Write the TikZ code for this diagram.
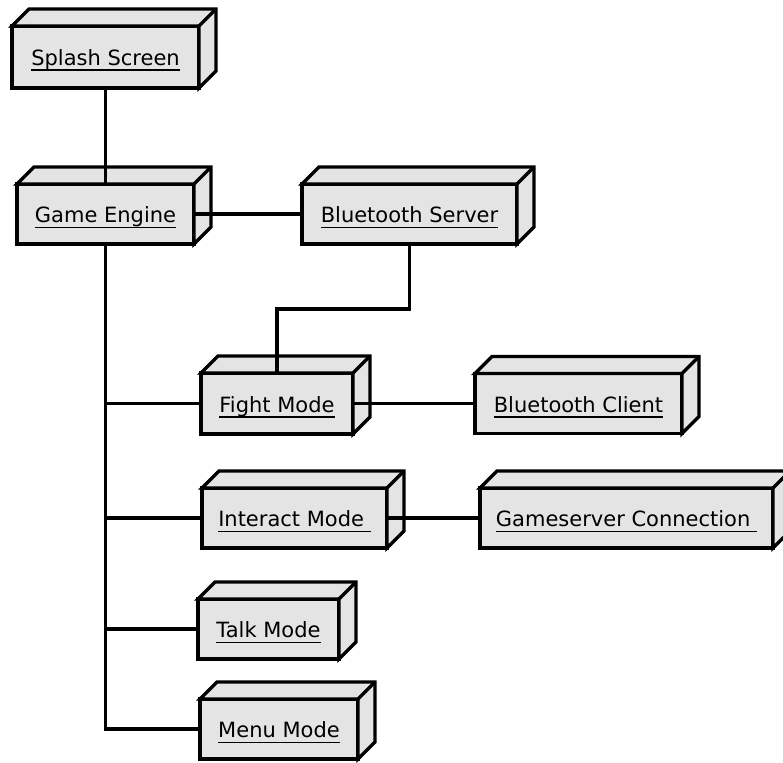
\documentclass[tikz,border=0pt]{standalone}
\usepackage{fontspec}
\setmainfont{DejaVu Sans}
\usepackage{tikz}

\definecolor{boxgray}{RGB}{228,228,228}
\newcommand{\uname}[1]{\setbox0\hbox{#1}\rlap{\rule[-5.5pt]{\wd0}{1.5pt}}\box0}
\newcommand{\dep}{17}
\newcommand{\boxfaces}[1]{%
  \filldraw[boxline] (#1.north west) -- ([shift={(\dep,-\dep)}]#1.north west)
    -- ([shift={(\dep,-\dep)}]#1.north east) -- ([shift={(\dep,-\dep)}]#1.south east)
    -- (#1.south east) -- (#1.north east) -- cycle;
  \draw[boxline] (#1.north east) -- ([shift={(\dep,-\dep)}]#1.north east);}

\tikzset{
  boxline/.style={line width=3.4pt, draw=black, fill=boxgray, line join=miter},
  unode/.style={boxline, rectangle, outer sep=0pt, inner sep=0pt,
    text height=23pt, text depth=6pt, font=\fontsize{21}{24}\selectfont},
  wire/.style={line width=3.2pt}
}

\begin{document}
\begin{tikzpicture}[x=1pt, y=-1pt]
\useasboundingbox (0,0) rectangle (783,762);

\node[unode, minimum width=187, minimum height=62] (splash) at (105.5,57) {\uname{Splash Screen}};
\node[unode, minimum width=177, minimum height=60] (engine) at (105.5,214) {\uname{Game Engine}};
\node[unode, minimum width=215, minimum height=60] (bserver) at (409.5,214) {\uname{Bluetooth Server}};
\node[unode, minimum width=152, minimum height=61] (fight) at (277,403.5) {\uname{Fight Mode}};
\node[unode, minimum width=207, minimum height=60] (bclient) at (578.5,403.5) {\uname{Bluetooth Client}};
\node[unode, minimum width=185, minimum height=60] (interact) at (294.5,518) {\uname{Interact Mode\ }};
\node[unode, minimum width=293, minimum height=60] (gsconn) at (626.5,518) {\uname{Gameserver Connection\ }};
\node[unode, minimum width=141, minimum height=60] (talk) at (268.5,629) {\uname{Talk Mode}};
\node[unode, minimum width=158, minimum height=60] (menu) at (279,729) {\uname{Menu Mode}};

\foreach \n in {splash,engine,bserver,fight,bclient,interact,gsconn,talk,menu}
  \boxfaces{\n};

\draw[wire] (splash.south) -- (engine.north);
\draw[wire] (engine.east) -- (bserver.west);
\draw[wire] (engine.south) |- (menu.west);
\foreach \n in {fight,interact,talk}
  \draw[wire] (engine.south) |- (\n.west);
\draw[wire] (bserver.south) -- ++(0,65) -| (fight.north);
\draw[wire] (fight.east) -- (bclient.west);
\draw[wire] (interact.east) -- (gsconn.west);
\end{tikzpicture}
\end{document}
